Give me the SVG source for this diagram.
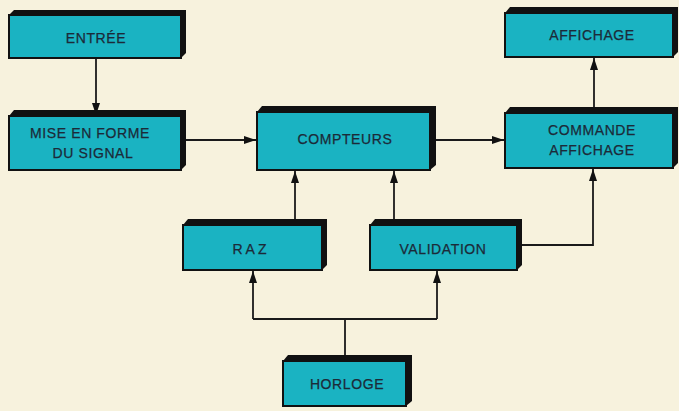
<svg xmlns="http://www.w3.org/2000/svg" width="679" height="411" viewBox="0 0 679 411">
<defs>
<style>
.shadow{fill:#111;}
.front{fill:#1ab3c2;stroke:#111;stroke-width:2;}
.t{font-family:"Liberation Sans",Arial,sans-serif;font-size:14px;fill:#1c2a38;stroke:#1c2a38;stroke-width:0.25;text-anchor:middle;letter-spacing:0.6px;}
.c{fill:none;stroke:#1a1a1a;stroke-width:1.8;}
</style>
<marker id="ah" viewBox="0 0 12 8" refX="12" refY="4" markerWidth="12" markerHeight="8" markerUnits="userSpaceOnUse" orient="auto">
<path d="M0,0 L12,4 L0,8 z" fill="#111"/>
</marker>
</defs>
<rect width="679" height="411" fill="#f7f2dd"/>
<g id="connectors">
<path class="c" d="M96,58 V115" marker-end="url(#ah)"/>
<path class="c" d="M182,140 H256" marker-end="url(#ah)"/>
<path class="c" d="M431,140 H504" marker-end="url(#ah)"/>
<path class="c" d="M594,112 V58" marker-end="url(#ah)"/>
<path class="c" d="M295,219 V171" marker-end="url(#ah)"/>
<path class="c" d="M394,219 V171" marker-end="url(#ah)"/>
<path class="c" d="M522,245 H593 V169" marker-end="url(#ah)"/>
<path class="c" d="M345,355 V319 M253,319 H437"/>
<path class="c" d="M253,319 V271" marker-end="url(#ah)"/>
<path class="c" d="M437,319 V271" marker-end="url(#ah)"/>
</g>
<g id="entree">
<polygon class="shadow" points="9,15 14,10 186,10 186,53 181,58"/>
<rect class="front" x="9" y="15" width="172" height="43"/>
<text class="t" x="96" y="43">ENTRÉE</text>
</g>
<g id="mise-en-forme">
<polygon class="shadow" points="9,116 14,110 186,110 186,165 181,170"/>
<rect class="front" x="9" y="116" width="172" height="54"/>
<text class="t" x="90" y="138">MISE EN FORME</text>
<text class="t" x="93" y="158">DU SIGNAL</text>
</g>
<g id="compteurs">
<polygon class="shadow" points="257,112 262,106 436,106 436,165 430,170"/>
<rect class="front" x="257" y="112" width="173" height="58"/>
<text class="t" x="345" y="144">COMPTEURS</text>
</g>
<g id="affichage">
<polygon class="shadow" points="505,13 510,7 678,7 678,52 673,57"/>
<rect class="front" x="505" y="13" width="168" height="44"/>
<text class="t" x="592" y="40">AFFICHAGE</text>
</g>
<g id="commande-affichage">
<polygon class="shadow" points="505,113 510,107 678,107 678,163 673,168"/>
<rect class="front" x="505" y="113" width="168" height="55"/>
<text class="t" x="592" y="135">COMMANDE</text>
<text class="t" x="592" y="155">AFFICHAGE</text>
</g>
<g id="raz">
<polygon class="shadow" points="183,225 188,219 327,219 327,265 322,270"/>
<rect class="front" x="183" y="225" width="139" height="45"/>
<text class="t" x="251" y="254" style="letter-spacing:3px">RAZ</text>
</g>
<g id="validation">
<polygon class="shadow" points="370,225 375,219 522,219 522,265 517,270"/>
<rect class="front" x="370" y="225" width="147" height="45"/>
<text class="t" x="443" y="254">VALIDATION</text>
</g>
<g id="horloge">
<polygon class="shadow" points="283,361 288,355 412,355 412,401 406,406"/>
<rect class="front" x="283" y="361" width="123" height="45"/>
<text class="t" x="347" y="389">HORLOGE</text>
</g>
</svg>
